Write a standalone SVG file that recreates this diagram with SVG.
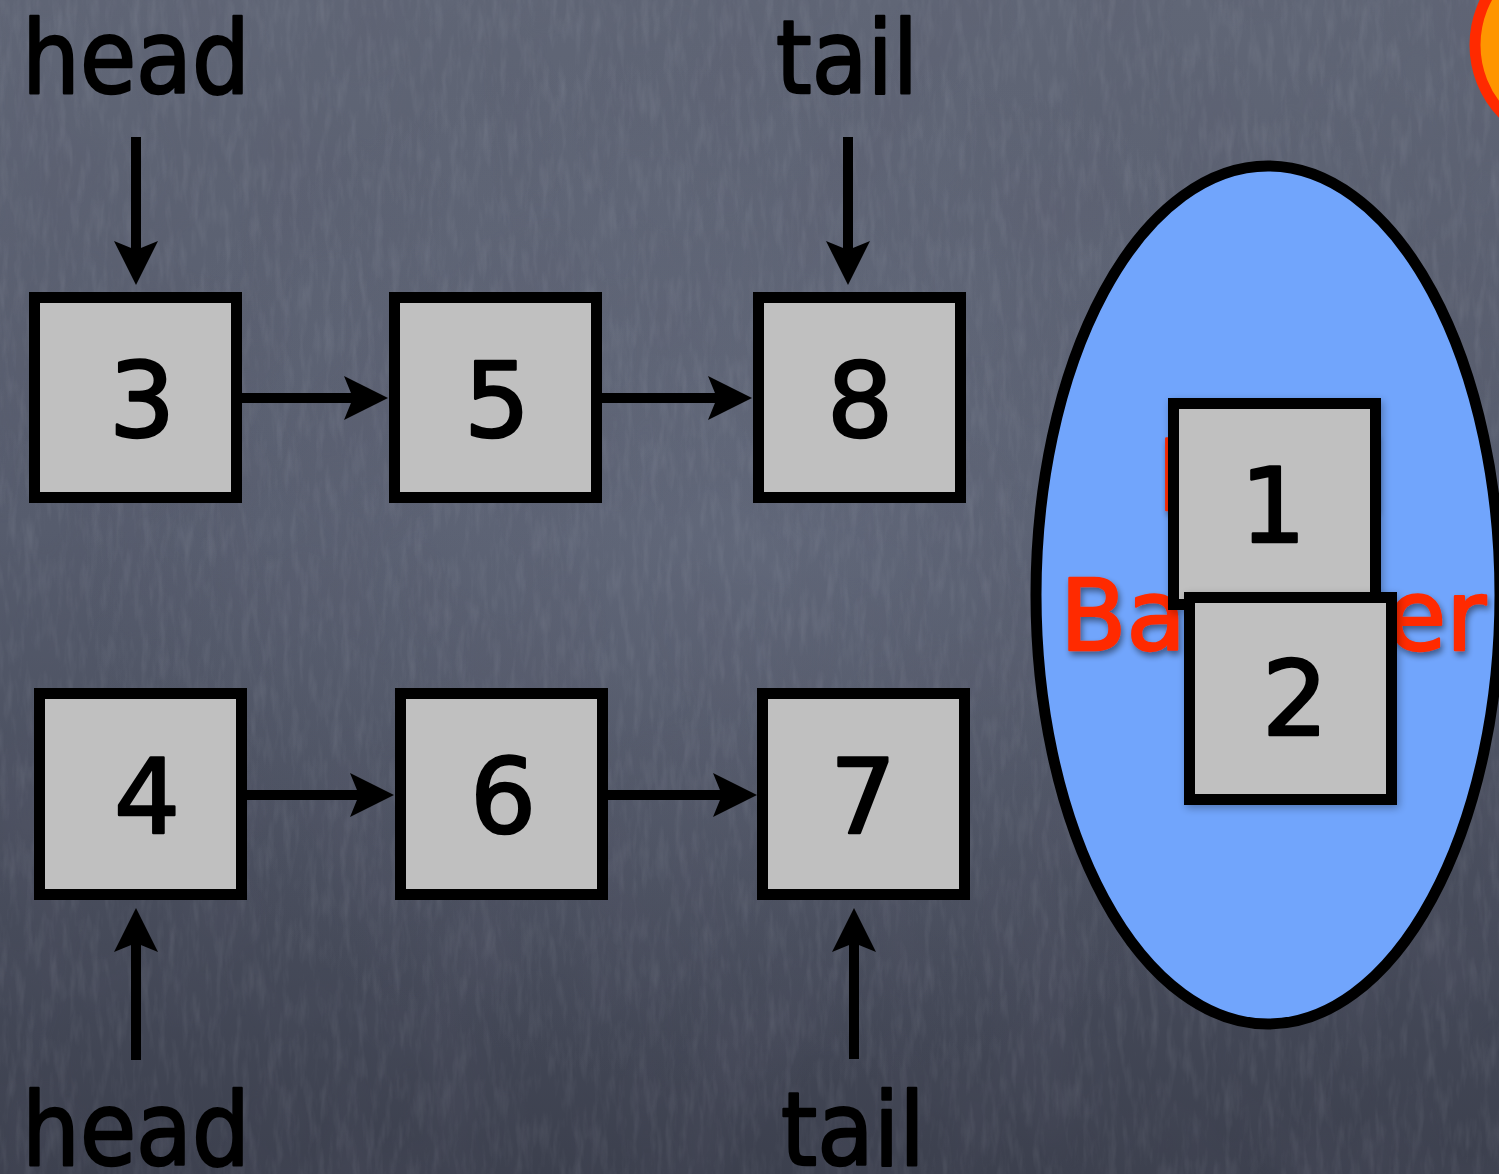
<svg xmlns="http://www.w3.org/2000/svg" width="1499" height="1174" viewBox="0 0 1499 1174">
  <defs>
    <linearGradient id="slate" x1="0" y1="0" x2="0" y2="1">
      <stop offset="0" stop-color="#606676"/>
      <stop offset="0.45" stop-color="#565c6d"/>
      <stop offset="1" stop-color="#3c404e"/>
    </linearGradient>
    <radialGradient id="glow" cx="0.5" cy="0.48" r="0.45">
      <stop offset="0" stop-color="#8a93a8" stop-opacity="0.22"/>
      <stop offset="1" stop-color="#8a93a8" stop-opacity="0"/>
    </radialGradient>
    <filter id="grain" x="0" y="0" width="100%" height="100%">
      <feTurbulence type="fractalNoise" baseFrequency="0.12 0.025" numOctaves="3" seed="7"/>
      <feColorMatrix type="matrix" values="0 0 0 0 0.85  0 0 0 0 0.88  0 0 0 0 0.95  0.9 0 0 0 -0.4"/>
    </filter>
    <filter id="mottle" x="0" y="0" width="100%" height="100%">
      <feTurbulence type="fractalNoise" baseFrequency="0.012 0.008" numOctaves="2" seed="3"/>
      <feColorMatrix type="matrix" values="0 0 0 0 0.1  0 0 0 0 0.1  0 0 0 0 0.15  0.9 0 0 0 -0.35"/>
    </filter>
    <filter id="textShadow" x="-10%" y="-10%" width="120%" height="130%">
      <feGaussianBlur in="SourceAlpha" stdDeviation="3"/>
      <feOffset dx="2" dy="4" result="b"/>
      <feComponentTransfer><feFuncA type="linear" slope="0.45"/></feComponentTransfer>
      <feMerge><feMergeNode/><feMergeNode in="SourceGraphic"/></feMerge>
    </filter>
    <filter id="boxShadow" x="-10%" y="-10%" width="125%" height="125%">
      <feGaussianBlur in="SourceAlpha" stdDeviation="4"/>
      <feOffset dx="2" dy="3"/>
      <feComponentTransfer><feFuncA type="linear" slope="0.3"/></feComponentTransfer>
      <feMerge><feMergeNode/><feMergeNode in="SourceGraphic"/></feMerge>
    </filter>
    <marker id="head" markerUnits="userSpaceOnUse" markerWidth="44" markerHeight="44" viewBox="0 0 44 44" refX="24" refY="22" orient="auto">
      <path d="M0,0 L44,22 L0,44 L9,22 Z" fill="#000"/>
    </marker>
    <style>
      .box { fill: #c0c0c0; stroke: #000; stroke-width: 11; }
      .digit { font-family: "DejaVu Sans", "Liberation Sans", sans-serif; font-size: 104px; fill: #000; stroke: #000; stroke-width: 2.5; stroke-linejoin: round; text-anchor: middle; }
      .label { font-family: "DejaVu Sans", "Liberation Sans", sans-serif; font-size: 102px; fill: #000; stroke: #000; stroke-width: 2.5; stroke-linejoin: round; }
      .red { font-family: "DejaVu Sans", "Liberation Sans", sans-serif; font-size: 98px; fill: #ff2a00; stroke: #ff2a00; stroke-width: 2.5; stroke-linejoin: round; }
      .arrow { stroke: #000; stroke-width: 10; fill: none; marker-end: url(#head); }
    </style>
  </defs>

  <!-- chalkboard backdrop -->
  <rect width="1499" height="1174" fill="url(#slate)"/>
  <rect width="1499" height="1174" fill="url(#glow)"/>
  <rect width="1499" height="1174" filter="url(#mottle)" opacity="0.5"/>
  <rect width="1499" height="1174" filter="url(#grain)" opacity="0.18"/>

  <!-- orange disc at the top-right edge -->
  <g id="corner-disc">
    <circle cx="1574" cy="45" r="99" fill="#ff9500" stroke="#ff2a00" stroke-width="11"/>
  </g>

  <!-- pointer labels -->
  <g id="label-head-top"><text class="label" x="22" y="93" textLength="228" lengthAdjust="spacingAndGlyphs">head</text></g>
  <g id="label-tail-top"><text class="label" x="776" y="93" textLength="142" lengthAdjust="spacingAndGlyphs">tail</text></g>
  <g id="label-head-bottom"><text class="label" x="22" y="1165" textLength="228" lengthAdjust="spacingAndGlyphs">head</text></g>
  <g id="label-tail-bottom"><text class="label" x="781" y="1165" textLength="144" lengthAdjust="spacingAndGlyphs">tail</text></g>

  <!-- upper list: 3 -> 5 -> 8 -->
  <g id="node-3"><rect class="box" x="34.5" y="297.5" width="202" height="200"/><text class="digit" x="142" y="437">3</text></g>
  <g id="node-5"><rect class="box" x="394.5" y="297.5" width="202" height="200"/><text class="digit" x="497" y="437">5</text></g>
  <g id="node-8"><rect class="box" x="758.5" y="297.5" width="202" height="200"/><text class="digit" x="860" y="437">8</text></g>

  <!-- lower list: 4 -> 6 -> 7 -->
  <g id="node-4"><rect class="box" x="39.5" y="693.5" width="202" height="201"/><text class="digit" x="147" y="833">4</text></g>
  <g id="node-6"><rect class="box" x="400.5" y="693.5" width="202" height="201"/><text class="digit" x="503" y="833">6</text></g>
  <g id="node-7"><rect class="box" x="762.5" y="693.5" width="202" height="201"/><text class="digit" x="863" y="833">7</text></g>

  <!-- load balancer holding nodes 1 and 2 -->
  <g id="balancer">
    <ellipse cx="1268" cy="595" rx="232" ry="429" fill="#71a5fc" stroke="#000" stroke-width="11"/>
    <g filter="url(#textShadow)">
      <text class="red" x="1157" y="510" textLength="227" lengthAdjust="spacingAndGlyphs">Load</text>
      <text class="red" x="1060" y="650" textLength="426" lengthAdjust="spacingAndGlyphs">Balancer</text>
    </g>
  </g>
  <g id="node-1" filter="url(#boxShadow)"><rect class="box" x="1173.5" y="403.5" width="202" height="201"/><text class="digit" x="1273" y="542">1</text></g>
  <g id="node-2" filter="url(#boxShadow)"><rect class="box" x="1189.5" y="597.5" width="202" height="202"/><text class="digit" x="1295" y="735">2</text></g>

  <!-- connectors -->
  <g id="connectors">
    <line class="arrow" x1="136" y1="137" x2="136" y2="265"/>
    <line class="arrow" x1="848" y1="137" x2="848" y2="265"/>
    <line class="arrow" x1="242" y1="398" x2="368" y2="398"/>
    <line class="arrow" x1="602" y1="398" x2="732" y2="398"/>
    <line class="arrow" x1="247" y1="795" x2="374" y2="795"/>
    <line class="arrow" x1="607" y1="795" x2="737" y2="795"/>
    <line class="arrow" x1="136" y1="1060" x2="136" y2="928"/>
    <line class="arrow" x1="854" y1="1059" x2="854" y2="928"/>
  </g>
</svg>
